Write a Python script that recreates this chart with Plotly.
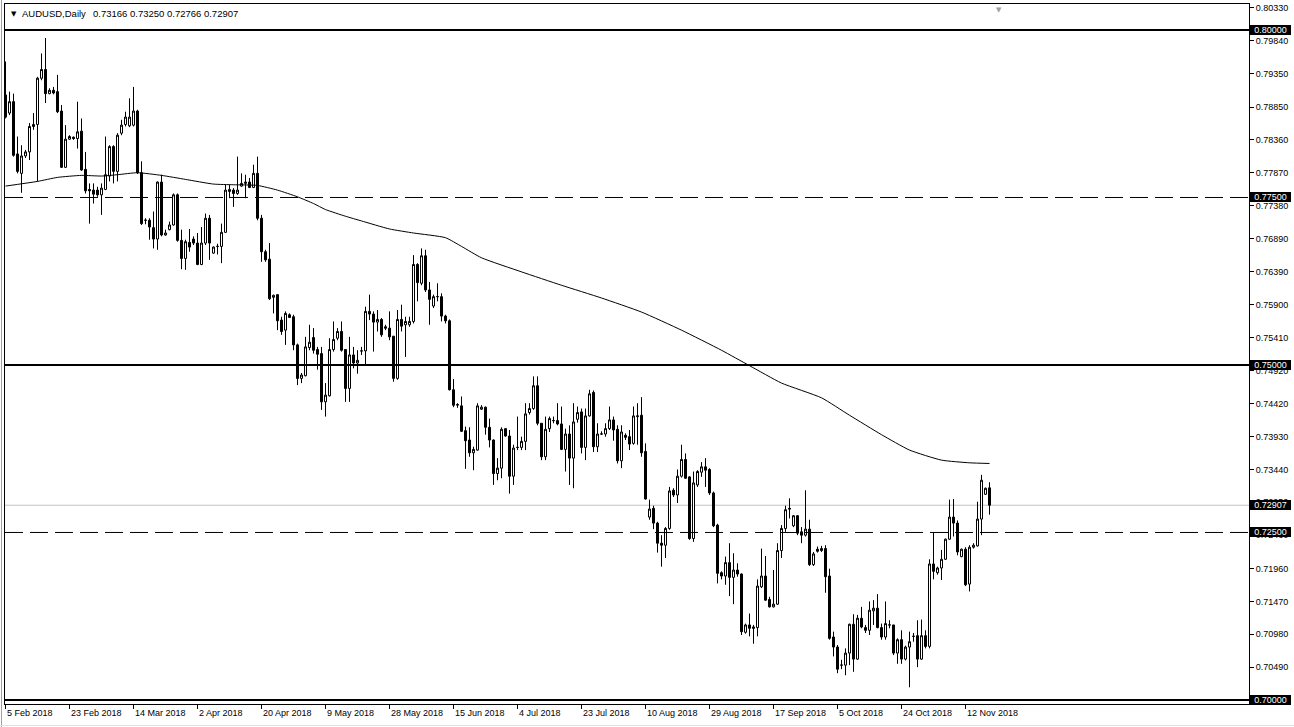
import plotly.graph_objects as go

# ---------------- data (AUDUSD daily) ----------------
opens = [0.7903,0.7876,0.7893,0.7815,0.7786,0.7812,0.7818,0.7856,0.7859,0.7928,
0.7941,0.7905,0.7910,0.7908,0.7879,0.7795,0.7837,0.7840,0.7838,0.7849,
0.7792,0.7762,0.7761,0.7761,0.7754,0.7762,0.7782,0.7826,0.7789,0.7846,
0.7859,0.7857,0.7858,0.7879,0.7787,0.7716,0.7716,0.7705,0.7688,0.7773,
0.7694,0.7702,0.7709,0.7754,0.7686,0.7659,0.7683,0.7688,0.7682,0.7650,
0.7682,0.7719,0.7667,0.7677,0.7677,0.7698,0.7759,0.7761,0.7756,0.7767,
0.7771,0.7773,0.7765,0.7786,0.7719,0.7669,0.7658,0.7601,0.7605,0.7567,
0.7552,0.7575,0.7572,0.7530,0.7480,0.7484,0.7526,0.7541,0.7523,0.7517,
0.7445,0.7454,0.7523,0.7540,0.7550,0.7523,0.7465,0.7515,0.7503,0.7521,
0.7521,0.7580,0.7576,0.7564,0.7568,0.7557,0.7555,0.7543,0.7480,0.7568,
0.7560,0.7560,0.7565,0.7650,0.7622,0.7663,0.7612,0.7588,0.7602,0.7602,
0.7573,0.7566,0.7463,0.7440,0.7439,0.7402,0.7388,0.7369,0.7373,0.7434,
0.7437,0.7407,0.7388,0.7338,0.7346,0.7405,0.7394,0.7334,0.7377,0.7377,
0.7386,0.7429,0.7435,0.7469,0.7413,0.7363,0.7405,0.7417,0.7417,0.7412,
0.7374,0.7397,0.7361,0.7419,0.7430,0.7377,0.7424,0.7459,0.7378,0.7397,
0.7397,0.7405,0.7418,0.7404,0.7357,0.7395,0.7393,0.7383,0.7423,0.7425,
0.7371,0.7273,0.7286,0.7264,0.7234,0.7231,0.7256,0.7313,0.7306,0.7334,
0.7359,0.7333,0.7241,0.7321,0.7340,0.7348,0.7344,0.7309,0.7261,0.7190,
0.7185,0.7205,0.7183,0.7194,0.7188,0.7101,0.7112,0.7109,0.7108,0.7169,
0.7185,0.7150,0.7139,0.7143,0.7223,0.7256,0.7286,0.7260,0.7275,0.7251,
0.7246,0.7255,0.7202,0.7225,0.7223,0.7226,0.7185,0.7094,0.7079,0.7052,
0.7052,0.7070,0.7113,0.7061,0.7122,0.7108,0.7104,0.7133,0.7137,0.7108,
0.7094,0.7112,0.7112,0.7070,0.7090,0.7061,0.7079,0.7095,0.7096,0.7061,
0.7096,0.7080,0.7203,0.7190,0.7197,0.7210,0.7240,0.7273,0.7264,0.7214,
0.7225,0.7173,0.7228,0.7230,0.7270,0.7307,0.73166]

highs = [0.7953,0.7908,0.7905,0.7841,0.7828,0.7821,0.7861,0.7876,0.7930,0.7965,
0.7988,0.7913,0.7915,0.7933,0.7888,0.7858,0.7843,0.7841,0.7893,0.7868,
0.7818,0.7771,0.7771,0.7766,0.7771,0.7841,0.7828,0.7828,0.7846,0.7866,
0.7878,0.7898,0.7915,0.7881,0.7804,0.7719,0.7719,0.7729,0.7774,0.7784,
0.7702,0.7714,0.7756,0.7756,0.7702,0.7687,0.7703,0.7692,0.7697,0.7706,
0.7726,0.7724,0.7677,0.7681,0.7711,0.7769,0.7769,0.7764,0.7811,0.7786,
0.7784,0.7779,0.7799,0.7811,0.7724,0.7672,0.7682,0.7605,0.7605,0.7572,
0.7580,0.7577,0.7575,0.7532,0.7488,0.7542,0.7560,0.7555,0.7527,0.7527,
0.7473,0.7540,0.7565,0.7555,0.7565,0.7523,0.7542,0.7527,0.7522,0.7527,
0.7587,0.7605,0.7580,0.7582,0.7570,0.7560,0.7580,0.7543,0.7582,0.7590,
0.7572,0.7572,0.7664,0.7652,0.7674,0.7672,0.7624,0.7605,0.7622,0.7607,
0.7575,0.7568,0.7479,0.7443,0.7453,0.7408,0.7407,0.7378,0.7443,0.7440,
0.7438,0.7420,0.7389,0.7361,0.7407,0.7405,0.7403,0.7381,0.7423,0.7393,
0.7443,0.7443,0.7483,0.7483,0.7413,0.7423,0.7423,0.7423,0.7443,0.7438,
0.7405,0.7410,0.7443,0.7438,0.7435,0.7435,0.7463,0.7462,0.7413,0.7401,
0.7413,0.7438,0.7423,0.7410,0.7410,0.7398,0.7403,0.7438,0.7443,0.7452,
0.7383,0.7299,0.7290,0.7266,0.7246,0.7258,0.7318,0.7316,0.7344,0.7381,
0.7368,0.7334,0.7341,0.7343,0.7355,0.7361,0.7346,0.7311,0.7263,0.7192,
0.7214,0.7234,0.7219,0.7204,0.7189,0.7114,0.7129,0.7112,0.7180,0.7226,
0.7215,0.7154,0.7194,0.7234,0.7261,0.7290,0.7301,0.7276,0.7276,0.7258,
0.7313,0.7269,0.7221,0.7229,0.7230,0.7231,0.7196,0.7102,0.7082,0.7060,
0.7077,0.7114,0.7128,0.7127,0.7139,0.7112,0.7147,0.7149,0.7158,0.7114,
0.7147,0.7119,0.7112,0.7092,0.7104,0.7081,0.7102,0.7100,0.7119,0.7120,
0.7104,0.7210,0.7250,0.7199,0.7224,0.7241,0.7299,0.7300,0.7268,0.7226,
0.7228,0.7231,0.7234,0.7296,0.7336,0.7317,0.73250]

lows = [0.7868,0.7873,0.7811,0.7786,0.7757,0.7809,0.7806,0.7851,0.7774,0.7925,
0.7891,0.7904,0.7904,0.7876,0.7794,0.7794,0.7836,0.7836,0.7823,0.7790,
0.7756,0.7711,0.7741,0.7751,0.7724,0.7761,0.7774,0.7771,0.7774,0.7843,
0.7856,0.7855,0.7856,0.7785,0.7709,0.7710,0.7687,0.7674,0.7672,0.7692,
0.7693,0.7701,0.7708,0.7684,0.7643,0.7642,0.7669,0.7679,0.7649,0.7649,
0.7679,0.7657,0.7666,0.7665,0.7652,0.7697,0.7749,0.7736,0.7754,0.7766,
0.7749,0.7764,0.7764,0.7716,0.7654,0.7654,0.7597,0.7577,0.7552,0.7545,
0.7530,0.7570,0.7522,0.7470,0.7473,0.7483,0.7522,0.7517,0.7493,0.7433,
0.7423,0.7453,0.7520,0.7537,0.7520,0.7445,0.7445,0.7495,0.7487,0.7515,
0.7500,0.7567,0.7520,0.7550,0.7542,0.7552,0.7537,0.7475,0.7478,0.7550,
0.7512,0.7557,0.7562,0.7595,0.7619,0.7609,0.7560,0.7585,0.7595,0.7565,
0.7562,0.7462,0.7437,0.7436,0.7400,0.7345,0.7363,0.7343,0.7372,0.7433,
0.7396,0.7377,0.7321,0.7328,0.7331,0.7393,0.7308,0.7321,0.7373,0.7373,
0.7373,0.7426,0.7433,0.7410,0.7358,0.7358,0.7400,0.7413,0.7410,0.7373,
0.7341,0.7321,0.7316,0.7414,0.7368,0.7358,0.7423,0.7370,0.7370,0.7396,
0.7393,0.7403,0.7387,0.7353,0.7346,0.7388,0.7373,0.7381,0.7381,0.7363,
0.7299,0.7269,0.7255,0.7220,0.7199,0.7212,0.7254,0.7303,0.7294,0.7332,
0.7330,0.7239,0.7236,0.7318,0.7333,0.7318,0.7306,0.7258,0.7174,0.7180,
0.7172,0.7155,0.7143,0.7184,0.7097,0.7099,0.7095,0.7084,0.7095,0.7167,
0.7148,0.7138,0.7138,0.7142,0.7212,0.7251,0.7271,0.7258,0.7246,0.7234,
0.7244,0.7200,0.7200,0.7220,0.7221,0.7160,0.7090,0.7065,0.7040,0.7046,
0.7037,0.7052,0.7042,0.7060,0.7107,0.7100,0.7097,0.7112,0.7107,0.7090,
0.7090,0.7107,0.7067,0.7054,0.7054,0.7059,0.7019,0.7087,0.7049,0.7060,
0.7077,0.7077,0.7180,0.7187,0.7179,0.7209,0.7239,0.7244,0.7216,0.7213,
0.7170,0.7162,0.7226,0.7229,0.7246,0.7306,0.72766]

closes = [0.7870,0.7893,0.7813,0.7789,0.7812,0.7818,0.7856,0.7859,0.7928,0.7941,
0.7905,0.7910,0.7906,0.7878,0.7795,0.7837,0.7841,0.7838,0.7848,0.7791,
0.7760,0.7760,0.7755,0.7754,0.7764,0.7784,0.7826,0.7789,0.7843,0.7858,
0.7870,0.7870,0.7879,0.7787,0.7711,0.7716,0.7706,0.7688,0.7773,0.7694,
0.7697,0.7709,0.7754,0.7686,0.7659,0.7684,0.7676,0.7682,0.7650,0.7682,
0.7719,0.7682,0.7676,0.7677,0.7698,0.7761,0.7762,0.7756,0.7761,0.7771,
0.7773,0.7765,0.7786,0.7719,0.7669,0.7657,0.7599,0.7604,0.7566,0.7550,
0.7577,0.7571,0.7530,0.7480,0.7485,0.7527,0.7534,0.7522,0.7516,0.7445,
0.7455,0.7523,0.7538,0.7550,0.7522,0.7465,0.7515,0.7503,0.7507,0.7521,
0.7580,0.7576,0.7564,0.7568,0.7545,0.7555,0.7542,0.7480,0.7568,0.7558,
0.7565,0.7565,0.7650,0.7623,0.7663,0.7612,0.7598,0.7602,0.7602,0.7573,
0.7566,0.7463,0.7440,0.7441,0.7401,0.7387,0.7369,0.7374,0.7439,0.7437,
0.7407,0.7388,0.7338,0.7346,0.7404,0.7394,0.7334,0.7376,0.7377,0.7386,
0.7427,0.7435,0.7469,0.7413,0.7363,0.7404,0.7420,0.7417,0.7412,0.7374,
0.7397,0.7361,0.7415,0.7429,0.7377,0.7424,0.7457,0.7378,0.7397,0.7397,
0.7405,0.7418,0.7403,0.7357,0.7400,0.7392,0.7382,0.7424,0.7424,0.7369,
0.7300,0.7285,0.7264,0.7234,0.7231,0.7256,0.7312,0.7306,0.7334,0.7359,
0.7331,0.7241,0.7324,0.7341,0.7348,0.7343,0.7309,0.7260,0.7189,0.7185,
0.7205,0.7183,0.7194,0.7188,0.7102,0.7112,0.7107,0.7107,0.7170,0.7185,
0.7149,0.7139,0.7143,0.7223,0.7256,0.7284,0.7285,0.7275,0.7249,0.7246,
0.7255,0.7202,0.7218,0.7222,0.7226,0.7184,0.7092,0.7079,0.7046,0.7052,
0.7070,0.7113,0.7061,0.7122,0.7109,0.7104,0.7134,0.7137,0.7108,0.7094,
0.7114,0.7112,0.7070,0.7090,0.7061,0.7079,0.7087,0.7095,0.7061,0.7096,
0.7080,0.7203,0.7192,0.7197,0.7210,0.7240,0.7273,0.7264,0.7221,0.7225,
0.7172,0.7228,0.7231,0.7270,0.7328,0.7316,0.72907]

# moving average, read at selected bars
ma_bars = [0, 8, 13, 19, 24, 28, 33, 39, 45, 52, 57, 63, 68, 73, 77, 80, 85, 89, 96, 102,
           110, 114, 119, 129, 139, 149, 159, 169, 179, 186, 194, 204, 211, 219, 226, 234, 241, 246]
ma_values = [0.7767, 0.7774, 0.7780, 0.7783, 0.7782, 0.7784, 0.7787, 0.7783, 0.7777, 0.7770,
             0.7769, 0.7768, 0.7761, 0.7751, 0.7741, 0.7732, 0.7722, 0.7715, 0.7703, 0.7697,
             0.7690, 0.7677, 0.7660, 0.7639, 0.7619, 0.7600, 0.7579, 0.7552, 0.7522, 0.7499,
             0.7473, 0.7451, 0.7425, 0.7396, 0.7373, 0.7358, 0.7354, 0.7353]

date_labels = ["5 Feb 2018", "23 Feb 2018", "14 Mar 2018", "2 Apr 2018", "20 Apr 2018",
               "9 May 2018", "28 May 2018", "15 Jun 2018", "4 Jul 2018", "23 Jul 2018",
               "10 Aug 2018", "29 Aug 2018", "17 Sep 2018", "5 Oct 2018", "24 Oct 2018",
               "12 Nov 2018"]
bars_per_label = 16

price_labels = ["0.80330", "0.79840", "0.79350", "0.78850", "0.78360", "0.77870", "0.77380",
                "0.76890", "0.76390", "0.75900", "0.75410", "0.74920", "0.74420", "0.73930",
                "0.73440", "0.72950", "0.72460", "0.71960", "0.71470", "0.70980", "0.70490"]

solid_levels = [0.80000, 0.75000, 0.70000]
dashed_levels = [0.77500, 0.72500]
last_price = 0.72907
symbol_title = "AUDUSD,Daily"
ohlc_title = "0.73166 0.73250 0.72766 0.72907"

# ---------------- figure ----------------
W, H = 1294, 727
ML, MR, MT, MB = 5, 45, 4, 23
PW = W - ML - MR
PH = H - MT - MB
FONT = "Tahoma, Liberation Sans, Arial, sans-serif"
X_SPAN = 311  # bars visible across the plot width

n = len(opens)
bars = list(range(n))

fig = go.Figure()
fig.add_trace(go.Candlestick(
    x=bars, open=opens, high=highs, low=lows, close=closes,
    increasing=dict(fillcolor="white", line=dict(color="black", width=1)),
    decreasing=dict(fillcolor="black", line=dict(color="black", width=1)),
    whiskerwidth=0, showlegend=False, hoverinfo="skip"))
fig.add_trace(go.Scatter(
    x=ma_bars, y=ma_values, mode="lines",
    line=dict(color="black", width=1, shape="spline", smoothing=0.5),
    showlegend=False, hoverinfo="skip"))

shapes = []
for lv in solid_levels:
    shapes.append(dict(type="line", xref="paper", x0=0, x1=1, yref="y", y0=lv, y1=lv,
                       line=dict(color="black", width=2)))
for lv in dashed_levels:
    shapes.append(dict(type="line", xref="paper", x0=0, x1=1, yref="y", y0=lv, y1=lv,
                       line=dict(color="black", width=1, dash="18px,7px")))
shapes.append(dict(type="line", xref="paper", x0=0, x1=1, yref="y", y0=last_price, y1=last_price,
                   line=dict(color="#c0c0c0", width=1), layer="below"))
# window borders (left and bottom, light grey)
shapes.append(dict(type="line", xref="paper", yref="paper",
                   x0=-3.5 / PW, x1=-3.5 / PW, y0=-MB / PH, y1=1 + MT / PH,
                   line=dict(color="#a0a0a0", width=1)))
shapes.append(dict(type="line", xref="paper", yref="paper",
                   x0=-ML / PW, x1=1 + MR / PW, y0=-(MB - 1.5) / PH, y1=-(MB - 1.5) / PH,
                   line=dict(color="#e0e0e0", width=1)))

annotations = []
# date labels (left aligned at their tick)
for k, lab in enumerate(date_labels):
    annotations.append(dict(x=k * bars_per_label, xref="x", y=0, yref="paper",
                            xanchor="left", yanchor="top", yshift=-2, xshift=-1,
                            text=lab, showarrow=False,
                            font=dict(family=FONT, size=9, color="black")))
# highlighted price boxes
for lv, txt in [(0.80000, "0.80000"), (0.77500, "0.77500"), (0.75000, "0.75000"),
                (last_price, "0.72907"), (0.72500, "0.72500"), (0.70000, "0.70000")]:
    annotations.append(dict(x=1, xref="paper", y=lv, yref="y", xanchor="left", yanchor="middle",
                            xshift=1, text=txt, showarrow=False, bgcolor="black",
                            borderpad=0, borderwidth=0, width=41, height=10, align="center",
                            font=dict(family=FONT, size=9, color="white")))
# header
annotations.append(dict(x=(9 - ML) / PW, xref="paper", y=1, yref="paper", xanchor="left",
                        yanchor="top", yshift=-4, text="▼", showarrow=False,
                        font=dict(family="DejaVu Sans", size=7, color="black")))
annotations.append(dict(x=(20 - ML) / PW, xref="paper", y=1, yref="paper", xanchor="left",
                        yanchor="top", yshift=-2, text=symbol_title, showarrow=False,
                        font=dict(family=FONT, size=9.5, color="black")))
annotations.append(dict(x=(91 - ML) / PW, xref="paper", y=1, yref="paper", xanchor="left",
                        yanchor="top", yshift=-2, text=ohlc_title, showarrow=False,
                        font=dict(family=FONT, size=9.5, color="black")))
annotations.append(dict(x=(994 - ML) / PW, xref="paper", y=1, yref="paper", xanchor="left",
                        yanchor="top", yshift=0, text="▼", showarrow=False,
                        font=dict(family="DejaVu Sans", size=7, color="#a0a0a0")))

half_px = 0.5 / (PW / X_SPAN)  # put bar centres on pixel centres
fig.update_layout(
    width=W, height=H, autosize=False,
    margin=dict(l=ML, r=MR, t=MT, b=MB, pad=0),
    paper_bgcolor="white", plot_bgcolor="white",
    showlegend=False, hovermode=False,
    shapes=shapes, annotations=annotations,
    boxgap=0.5, boxgroupgap=0,
    xaxis=dict(range=[-half_px, X_SPAN - half_px], showgrid=False, zeroline=False,
               showline=True, mirror=True,
               linecolor="black", linewidth=1, ticks="outside", ticklen=4, tickcolor="black",
               tickvals=[k * bars_per_label for k in range(len(date_labels))],
               showticklabels=False, rangeslider=dict(visible=False), fixedrange=True),
    yaxis=dict(range=[0.69940, 0.80388], side="right", showgrid=False, zeroline=False,
               showline=True, mirror=True, linecolor="black", linewidth=1,
               ticks="outside", ticklen=4, tickcolor="black",
               tickvals=[float(v) for v in price_labels], ticktext=price_labels,
               tickfont=dict(family=FONT, size=9, color="black"), fixedrange=True),
)

fig.write_html("out.html", config={"displayModeBar": False},
               post_script="document.body.style.margin='0px';")
